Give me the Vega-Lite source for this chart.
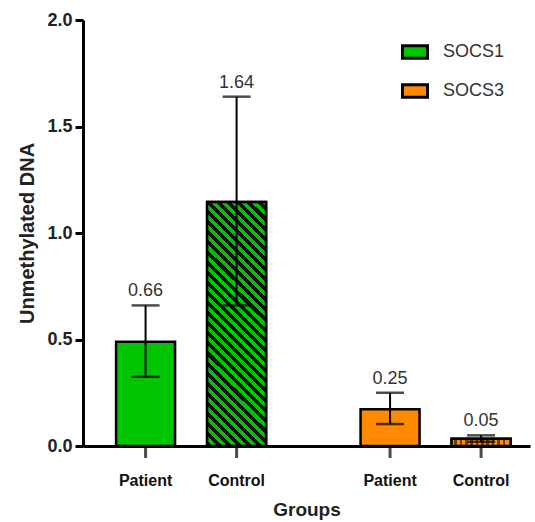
{
  "$schema": "https://vega.github.io/schema/vega-lite/v6.json",
  "autosize": {"type": "none"},
  "padding": {"left": 83, "top": 20, "right": 5, "bottom": 76},
  "width": 447,
  "height": 426,
  "background": "white",
  "config": {"font": "Liberation Sans", "view": {"stroke": null}},
  "data": {
    "values": [
      {"gene": "SOCS1", "group": "Patient", "mean": 0.49, "lower": 0.325, "upper": 0.66},
      {"gene": "SOCS1", "group": "Control", "mean": 1.146, "lower": 0.66, "upper": 1.64},
      {"gene": "SOCS3", "group": "Patient", "mean": 0.172, "lower": 0.103, "upper": 0.25},
      {"gene": "SOCS3", "group": "Control", "mean": 0.034, "lower": 0.02, "upper": 0.05}
    ]
  },
  "encoding": {
    "x": {
      "field": "gene", "type": "nominal",
      "scale": {"domain": ["SOCS1", "SOCS3"], "paddingInner": 0.3865, "paddingOuter": 0.1074, "align": 0.63},
      "axis": {"labels": false, "ticks": false, "domainWidth": 3, "domainColor": "black", "title": "Groups", "titleFontSize": 19, "titleFontWeight": "bold", "titleColor": "#222", "titlePadding": 54}
    },
    "xOffset": {
      "field": "group", "type": "nominal",
      "scale": {"domain": ["Patient", "Control"], "paddingInner": 0.352, "paddingOuter": 0}
    }
  },
  "layer": [
    {
      "mark": {"type": "bar", "stroke": "black", "strokeWidth": 2.5},
      "encoding": {
        "y": {
          "field": "mean", "type": "quantitative",
          "scale": {"domain": [0, 2], "nice": false},
          "axis": {"values": [0, 0.5, 1, 1.5, 2], "format": ".1f", "grid": false, "domainWidth": 3, "domainColor": "black", "tickWidth": 3, "tickSize": 8, "tickColor": "black", "labelFontSize": 18, "labelFontWeight": "bold", "labelColor": "#222", "labelPadding": 3, "title": "Unmethylated DNA", "titleFontSize": 20, "titleFontWeight": "bold", "titleColor": "#222", "titlePadding": 9}
        },
        "fill": {
          "field": "gene", "type": "nominal",
          "scale": {"domain": ["SOCS1", "SOCS3"], "range": ["#00c400", "#ff8a00"]},
          "legend": {"title": null, "orient": "none", "legendX": 318, "legendY": 18, "symbolType": "M-1,-0.5H1V0.5H-1Z", "symbolSize": 625, "symbolStrokeColor": "black", "symbolStrokeWidth": 3, "symbolOpacity": 1, "labelFontSize": 18, "labelColor": "#333", "labelOffset": 14, "rowPadding": 12}
        }
      }
    },
    {
      "transform": [{"filter": "datum.gene == 'SOCS1' && datum.group == 'Control'"}],
      "mark": {
        "type": "bar", "stroke": "black", "strokeWidth": 2.5,
        "fill": {
          "gradient": "linear", "x1": 0, "y1": 1, "x2": 0.2824, "y2": -0.1728,
          "stops": [
            {"offset": 0, "color": "#111"}, {"offset": 0.0167, "color": "#111"},
            {"offset": 0.0167, "color": "#00c400"}, {"offset": 0.0333, "color": "#00c400"},
            {"offset": 0.0333, "color": "#111"}, {"offset": 0.05, "color": "#111"},
            {"offset": 0.05, "color": "#00c400"}, {"offset": 0.0667, "color": "#00c400"},
            {"offset": 0.0667, "color": "#111"}, {"offset": 0.0833, "color": "#111"},
            {"offset": 0.0833, "color": "#00c400"}, {"offset": 0.1, "color": "#00c400"},
            {"offset": 0.1, "color": "#111"}, {"offset": 0.1167, "color": "#111"},
            {"offset": 0.1167, "color": "#00c400"}, {"offset": 0.1333, "color": "#00c400"},
            {"offset": 0.1333, "color": "#111"}, {"offset": 0.15, "color": "#111"},
            {"offset": 0.15, "color": "#00c400"}, {"offset": 0.1667, "color": "#00c400"},
            {"offset": 0.1667, "color": "#111"}, {"offset": 0.1833, "color": "#111"},
            {"offset": 0.1833, "color": "#00c400"}, {"offset": 0.2, "color": "#00c400"},
            {"offset": 0.2, "color": "#111"}, {"offset": 0.2167, "color": "#111"},
            {"offset": 0.2167, "color": "#00c400"}, {"offset": 0.2333, "color": "#00c400"},
            {"offset": 0.2333, "color": "#111"}, {"offset": 0.25, "color": "#111"},
            {"offset": 0.25, "color": "#00c400"}, {"offset": 0.2667, "color": "#00c400"},
            {"offset": 0.2667, "color": "#111"}, {"offset": 0.2833, "color": "#111"},
            {"offset": 0.2833, "color": "#00c400"}, {"offset": 0.3, "color": "#00c400"},
            {"offset": 0.3, "color": "#111"}, {"offset": 0.3167, "color": "#111"},
            {"offset": 0.3167, "color": "#00c400"}, {"offset": 0.3333, "color": "#00c400"},
            {"offset": 0.3333, "color": "#111"}, {"offset": 0.35, "color": "#111"},
            {"offset": 0.35, "color": "#00c400"}, {"offset": 0.3667, "color": "#00c400"},
            {"offset": 0.3667, "color": "#111"}, {"offset": 0.3833, "color": "#111"},
            {"offset": 0.3833, "color": "#00c400"}, {"offset": 0.4, "color": "#00c400"},
            {"offset": 0.4, "color": "#111"}, {"offset": 0.4167, "color": "#111"},
            {"offset": 0.4167, "color": "#00c400"}, {"offset": 0.4333, "color": "#00c400"},
            {"offset": 0.4333, "color": "#111"}, {"offset": 0.45, "color": "#111"},
            {"offset": 0.45, "color": "#00c400"}, {"offset": 0.4667, "color": "#00c400"},
            {"offset": 0.4667, "color": "#111"}, {"offset": 0.4833, "color": "#111"},
            {"offset": 0.4833, "color": "#00c400"}, {"offset": 0.5, "color": "#00c400"},
            {"offset": 0.5, "color": "#111"}, {"offset": 0.5167, "color": "#111"},
            {"offset": 0.5167, "color": "#00c400"}, {"offset": 0.5333, "color": "#00c400"},
            {"offset": 0.5333, "color": "#111"}, {"offset": 0.55, "color": "#111"},
            {"offset": 0.55, "color": "#00c400"}, {"offset": 0.5667, "color": "#00c400"},
            {"offset": 0.5667, "color": "#111"}, {"offset": 0.5833, "color": "#111"},
            {"offset": 0.5833, "color": "#00c400"}, {"offset": 0.6, "color": "#00c400"},
            {"offset": 0.6, "color": "#111"}, {"offset": 0.6167, "color": "#111"},
            {"offset": 0.6167, "color": "#00c400"}, {"offset": 0.6333, "color": "#00c400"},
            {"offset": 0.6333, "color": "#111"}, {"offset": 0.65, "color": "#111"},
            {"offset": 0.65, "color": "#00c400"}, {"offset": 0.6667, "color": "#00c400"},
            {"offset": 0.6667, "color": "#111"}, {"offset": 0.6833, "color": "#111"},
            {"offset": 0.6833, "color": "#00c400"}, {"offset": 0.7, "color": "#00c400"},
            {"offset": 0.7, "color": "#111"}, {"offset": 0.7167, "color": "#111"},
            {"offset": 0.7167, "color": "#00c400"}, {"offset": 0.7333, "color": "#00c400"},
            {"offset": 0.7333, "color": "#111"}, {"offset": 0.75, "color": "#111"},
            {"offset": 0.75, "color": "#00c400"}, {"offset": 0.7667, "color": "#00c400"},
            {"offset": 0.7667, "color": "#111"}, {"offset": 0.7833, "color": "#111"},
            {"offset": 0.7833, "color": "#00c400"}, {"offset": 0.8, "color": "#00c400"},
            {"offset": 0.8, "color": "#111"}, {"offset": 0.8167, "color": "#111"},
            {"offset": 0.8167, "color": "#00c400"}, {"offset": 0.8333, "color": "#00c400"},
            {"offset": 0.8333, "color": "#111"}, {"offset": 0.85, "color": "#111"},
            {"offset": 0.85, "color": "#00c400"}, {"offset": 0.8667, "color": "#00c400"},
            {"offset": 0.8667, "color": "#111"}, {"offset": 0.8833, "color": "#111"},
            {"offset": 0.8833, "color": "#00c400"}, {"offset": 0.9, "color": "#00c400"},
            {"offset": 0.9, "color": "#111"}, {"offset": 0.9167, "color": "#111"},
            {"offset": 0.9167, "color": "#00c400"}, {"offset": 0.9333, "color": "#00c400"},
            {"offset": 0.9333, "color": "#111"}, {"offset": 0.95, "color": "#111"},
            {"offset": 0.95, "color": "#00c400"}, {"offset": 0.9667, "color": "#00c400"},
            {"offset": 0.9667, "color": "#111"}, {"offset": 0.9833, "color": "#111"},
            {"offset": 0.9833, "color": "#00c400"}, {"offset": 1, "color": "#00c400"}
          ]
        }
      },
      "encoding": {"y": {"field": "mean", "type": "quantitative"}}
    },
    {
      "transform": [{"filter": "datum.gene == 'SOCS3' && datum.group == 'Control'"}],
      "mark": {
        "type": "bar", "stroke": "black", "strokeWidth": 2.5,
        "fill": {
          "gradient": "linear", "x1": 0, "y1": 0, "x2": 1, "y2": 0,
          "stops": [
            {"offset": 0, "color": "#ff8a00"}, {"offset": 0.0455, "color": "#ff8a00"},
            {"offset": 0.0455, "color": "#7a3c00"}, {"offset": 0.0909, "color": "#7a3c00"},
            {"offset": 0.0909, "color": "#ff8a00"}, {"offset": 0.1364, "color": "#ff8a00"},
            {"offset": 0.1364, "color": "#7a3c00"}, {"offset": 0.1818, "color": "#7a3c00"},
            {"offset": 0.1818, "color": "#ff8a00"}, {"offset": 0.2273, "color": "#ff8a00"},
            {"offset": 0.2273, "color": "#7a3c00"}, {"offset": 0.2727, "color": "#7a3c00"},
            {"offset": 0.2727, "color": "#ff8a00"}, {"offset": 0.3182, "color": "#ff8a00"},
            {"offset": 0.3182, "color": "#7a3c00"}, {"offset": 0.3636, "color": "#7a3c00"},
            {"offset": 0.3636, "color": "#ff8a00"}, {"offset": 0.4091, "color": "#ff8a00"},
            {"offset": 0.4091, "color": "#7a3c00"}, {"offset": 0.4545, "color": "#7a3c00"},
            {"offset": 0.4545, "color": "#ff8a00"}, {"offset": 0.5, "color": "#ff8a00"},
            {"offset": 0.5, "color": "#7a3c00"}, {"offset": 0.5455, "color": "#7a3c00"},
            {"offset": 0.5455, "color": "#ff8a00"}, {"offset": 0.5909, "color": "#ff8a00"},
            {"offset": 0.5909, "color": "#7a3c00"}, {"offset": 0.6364, "color": "#7a3c00"},
            {"offset": 0.6364, "color": "#ff8a00"}, {"offset": 0.6818, "color": "#ff8a00"},
            {"offset": 0.6818, "color": "#7a3c00"}, {"offset": 0.7273, "color": "#7a3c00"},
            {"offset": 0.7273, "color": "#ff8a00"}, {"offset": 0.7727, "color": "#ff8a00"},
            {"offset": 0.7727, "color": "#7a3c00"}, {"offset": 0.8182, "color": "#7a3c00"},
            {"offset": 0.8182, "color": "#ff8a00"}, {"offset": 0.8636, "color": "#ff8a00"},
            {"offset": 0.8636, "color": "#7a3c00"}, {"offset": 0.9091, "color": "#7a3c00"},
            {"offset": 0.9091, "color": "#ff8a00"}, {"offset": 1, "color": "#ff8a00"}
          ]
        }
      },
      "encoding": {"y": {"field": "mean", "type": "quantitative"}}
    },
    {
      "mark": {"type": "rule", "color": "black", "strokeWidth": 2},
      "encoding": {"y": {"field": "lower", "type": "quantitative"}, "y2": {"field": "upper"}}
    },
    {
      "mark": {"type": "tick", "color": "black", "size": 28, "thickness": 2.5, "orient": "horizontal"},
      "encoding": {"y": {"field": "upper", "type": "quantitative"}}
    },
    {
      "mark": {"type": "tick", "color": "black", "size": 28, "thickness": 2.5, "orient": "horizontal"},
      "encoding": {"y": {"field": "lower", "type": "quantitative"}}
    },
    {
      "mark": {"type": "text", "fontSize": 18, "color": "#333", "baseline": "alphabetic", "dy": -9},
      "encoding": {
        "y": {"field": "upper", "type": "quantitative"},
        "text": {"field": "upper", "type": "quantitative", "format": ".2f"}
      }
    },
    {
      "mark": {"type": "text", "fontSize": 16, "fontWeight": "bold", "color": "#111", "baseline": "middle", "dy": 35},
      "encoding": {
        "y": {"datum": 0, "type": "quantitative"},
        "text": {"field": "group", "type": "nominal"}
      }
    },
    {
      "mark": {"type": "tick", "color": "black", "size": 12, "thickness": 3, "orient": "vertical", "yOffset": 6},
      "encoding": {"y": {"datum": 0, "type": "quantitative"}}
    }
  ]
}
